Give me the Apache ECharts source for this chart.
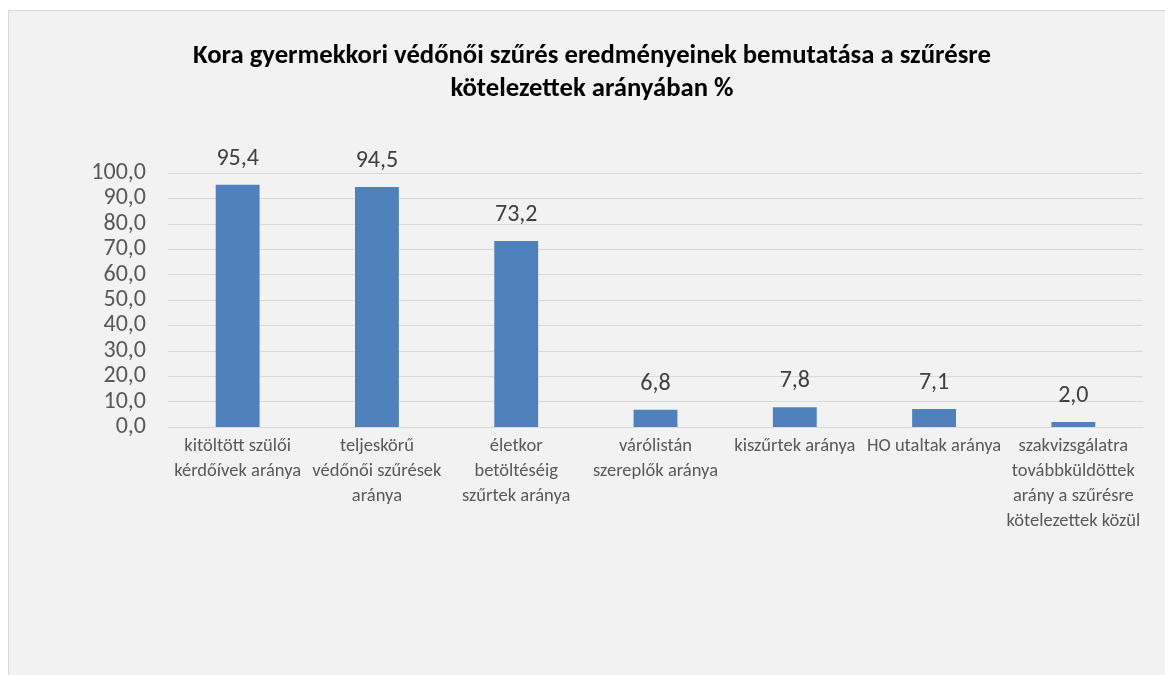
<!DOCTYPE html>
<html>
<head>
<meta charset="utf-8">
<script src="https://cdn.jsdelivr.net/npm/echarts@6/dist/echarts.min.js"></script>
<style>
  html, body { margin: 0; padding: 0; background: #ffffff; width: 1165px; height: 675px; overflow: hidden; }
  #chart { position: absolute; left: 8px; top: 10px; width: 1157px; height: 665px; background: #f2f2f2; border-left: 1px solid #d9d9d9; border-top: 1px solid #d9d9d9; box-sizing: border-box; }
</style>
</head>
<body>
<div id="chart"></div>
<script>
const titleText = "Kora gyermekkori védőnői szűrés eredményeinek bemutatása a szűrésre\nkötelezettek arányában %";
const categories = [
  "kitöltött szülői\nkérdőívek aránya",
  "teljeskörű\nvédőnői szűrések\naránya",
  "életkor\nbetöltéséig\nszűrtek aránya",
  "várólistán\nszereplők aránya",
  "kiszűrtek aránya",
  "HO utaltak aránya",
  "szakvizsgálatra\ntovábbküldöttek\narány a szűrésre\nkötelezettek közül"
];
const values = [95.4, 94.5, 73.2, 6.8, 7.8, 7.1, 2.0];
const yMin = 0, yMax = 100, yStep = 10;

const fontFam = 'Carlito, "Liberation Sans Narrow", "Liberation Sans", sans-serif';
const fmt = v => Number(v).toFixed(1).replace('.', ',');

const chart = echarts.init(document.getElementById('chart'));
chart.setOption({
  animation: false,
  backgroundColor: 'transparent',
  title: {
    text: titleText,
    left: 578, top: 24, textAlign: 'center',
    textStyle: { fontFamily: fontFam, fontSize: 26.7, fontWeight: 'bold', color: '#000', lineHeight: 33 }
  },
  grid: { left: 159, right: 22, top: 162, bottom: 248, containLabel: false },
  xAxis: {
    type: 'category',
    data: categories,
    axisLine: { show: true, lineStyle: { color: '#d9d9d9', width: 1 } },
    axisTick: { show: false },
    axisLabel: { interval: 0, color: '#595959', fontFamily: fontFam, fontSize: 18.5, lineHeight: 25, margin: 7 }
  },
  yAxis: {
    type: 'value', min: yMin, max: yMax, interval: yStep,
    axisLine: { show: false }, axisTick: { show: false },
    splitLine: { lineStyle: { color: '#d9d9d9', width: 1 } },
    axisLabel: { color: '#595959', fontFamily: fontFam, fontSize: 24, margin: 22, formatter: fmt }
  },
  series: [{
    type: 'bar',
    data: values,
    barWidth: '31.5%',
    itemStyle: { color: '#4f81bd' },
    label: { show: true, position: 'top', distance: 14, color: '#404040', fontFamily: fontFam, fontSize: 24, formatter: p => fmt(p.value) }
  }]
});
</script>
</body>
</html>
